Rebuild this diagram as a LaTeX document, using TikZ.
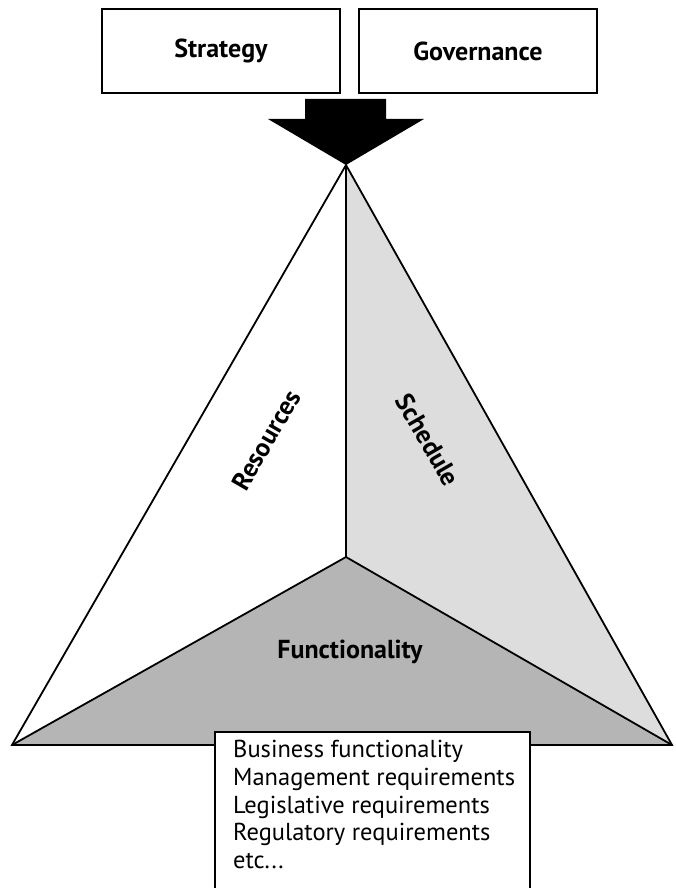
\documentclass[tikz,border=0pt]{standalone}
\usepackage{fontspec}
\setmainfont{PT Sans}
\begin{document}
\begin{tikzpicture}[x=1pt,y=-1pt,
  topbox/.style={draw, line width=1.5pt, minimum width=238pt, minimum height=84pt, font=\bfseries\fontsize{26}{30}\selectfont},
  face/.style={draw, line width=1.8pt, line join=miter},
  facelabel/.style={font=\bfseries\fontsize{26}{30}\selectfont}]
\useasboundingbox (0,0) rectangle (676,888);
% top boxes
\node[topbox] (strategy) at (221,51) {Strategy};
\node[topbox] (governance) at (478,51) {Governance};
% pyramid vertices
\coordinate (apex) at (346,165);
\coordinate (ctr) at (346,557);
\coordinate (lft) at (12,745);
\coordinate (rgt) at (672,745);
% faces
\fill[gray!27] (apex) -- (rgt) -- (ctr) -- cycle;
\fill[gray!58] (lft) -- (ctr) -- (rgt) -- cycle;
\draw[face] (apex) -- (lft) -- (rgt) -- cycle;
\draw[face] (apex) -- (ctr);
\draw[face] (lft) -- (ctr) -- (rgt);
% big arrow
\fill[black] (305,99) -- (386,99) -- (386,119) -- (424,119) -- (apex) -- (268,119) -- (305,119) -- cycle;
% face labels
\node[facelabel, rotate=60] (resources) at (266,440) {Resources};
\node[facelabel, rotate=-60] (schedule) at (428,440) {Schedule};
\node[facelabel] (functionality) at (350,652) {Functionality};
% list box
\fill[white] (215,732) rectangle (530,890);
\draw[line width=1.4pt] (215,890) -- (215,732) -- (530,732) -- (530,890);
\node[anchor=north west, align=left, font=\fontsize{24.5}{27.8}\selectfont, inner sep=0pt] (list) at (233,740)
  {Business functionality\\Management requirements\\Legislative requirements\\Regulatory requirements\\etc...};
\end{tikzpicture}
\end{document}
